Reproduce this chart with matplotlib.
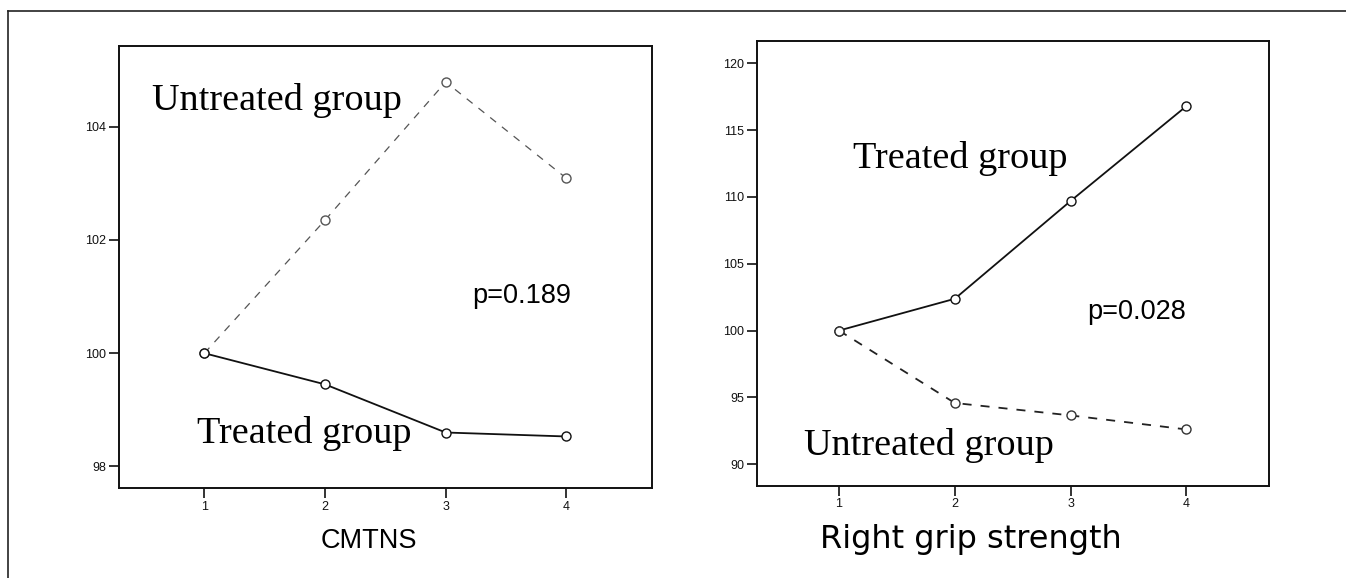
import matplotlib
matplotlib.use('Agg')
import matplotlib.pyplot as plt
from matplotlib.lines import Line2D

# time points
visits = [1, 2, 3, 4]

# CMTNS (% of baseline)
cmtns_treated = [100.0, 99.45, 98.6, 98.53]
cmtns_untreated = [100.0, 102.35, 104.79, 103.09]
cmtns_ticks = [98, 100, 102, 104]

# right grip strength (% of baseline)
grip_treated = [100.0, 102.38, 109.7, 116.8]
grip_untreated = [100.0, 94.58, 93.65, 92.6]
grip_ticks = [90, 95, 100, 105, 110, 115, 120]

SERIF = 'Liberation Serif'
SANS = 'Liberation Sans'

fig = plt.figure(figsize=(13.46, 5.78), dpi=100)

# outer frame (top and left edges visible)
fig.add_artist(Line2D([0.006, 1.0], [0.981, 0.981], transform=fig.transFigure,
                      color='#222222', lw=1.2))
fig.add_artist(Line2D([0.006, 0.006], [0.0, 0.981], transform=fig.transFigure,
                      color='#222222', lw=1.2))


def style_axes(ax, yticks, ylim):
    ax.set_xlim(0.29, 4.71)
    ax.set_ylim(*ylim)
    ax.set_xticks(visits)
    ax.set_yticks(yticks)
    for s in ax.spines.values():
        s.set_linewidth(1.4)
        s.set_color('#111111')
    ax.tick_params(direction='out', length=7, width=1.2, labelsize=9,
                   pad=2, colors='#111111')
    for lab in ax.get_xticklabels() + ax.get_yticklabels():
        lab.set_fontfamily(SANS)


marker_kw = dict(marker='o', markersize=6.5, markerfacecolor='white',
                 markeredgewidth=1.0)

# left panel: CMTNS
ax1 = fig.add_axes([0.0882, 0.1557, 0.3962, 0.7652])
ax1.plot(visits, cmtns_untreated, color='#555555', lw=0.9, ls=(0, (6, 6)),
         markeredgecolor='#555555', **marker_kw)
ax1.plot(visits, cmtns_treated, color='#111111', lw=1.3,
         markeredgecolor='#111111', **marker_kw)
style_axes(ax1, cmtns_ticks, (97.62, 105.43))
ax1.text(0.57, 104.29, 'Untreated group', family=SERIF, fontsize=27.5,
         va='baseline', ha='left')
ax1.text(0.94, 98.42, 'Treated group', family=SERIF, fontsize=27.5,
         va='baseline', ha='left')
ax1.text(3.22, 100.89, 'p=0.189', family=SANS, fontsize=19.5,
         va='baseline', ha='left')

# right panel: right grip strength
ax2 = fig.add_axes([0.5622, 0.1592, 0.3804, 0.7699])
ax2.plot(visits, grip_treated, color='#111111', lw=1.3,
         markeredgecolor='#111111', **marker_kw)
ax2.plot(visits, grip_untreated, color='#222222', lw=1.3, ls=(0, (5, 5)),
         markeredgecolor='#333333', **marker_kw)
style_axes(ax2, grip_ticks, (88.37, 121.67))
ax2.text(1.12, 112.15, 'Treated group', family=SERIF, fontsize=27.5,
         va='baseline', ha='left')
ax2.text(0.70, 90.7, 'Untreated group', family=SERIF, fontsize=27.5,
         va='baseline', ha='left')
ax2.text(3.14, 100.83, 'p=0.028', family=SANS, fontsize=19.5,
         va='baseline', ha='left')

fig.text(0.274, 0.064, 'CMTNS', family=SANS, fontsize=19.5,
         ha='center', va='center')
fig.text(0.7214, 0.066, 'Right grip strength', family='DejaVu Sans',
         fontsize=23, ha='center', va='center')

fig.savefig('out.png', dpi=100)
